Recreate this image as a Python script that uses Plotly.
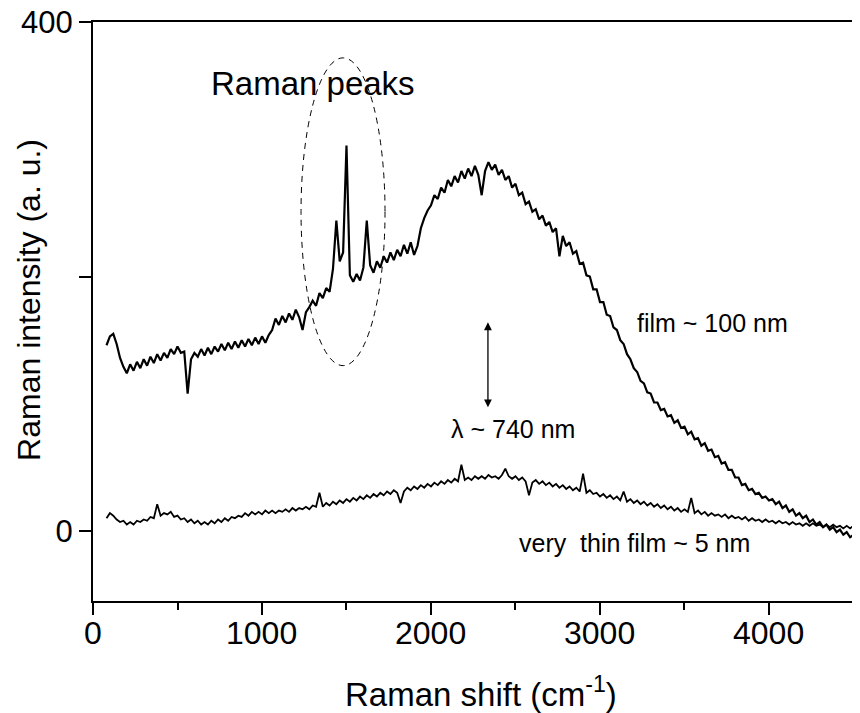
import plotly.graph_objects as go

# Raman shift sampling grid (cm^-1)
shift = list(range(80, 4540, 20))

# film ~ 100 nm
film_100nm = [
    146, 153, 155, 147, 136, 129, 124, 131, 126, 133,
    128, 135, 130, 137, 132, 139, 134, 140, 136, 143,
    139, 145, 140, 141, 108, 135, 140, 137, 143, 138,
    144, 139, 145, 141, 147, 142, 148, 143, 149, 144,
    150, 145, 151, 146, 152, 147, 153, 148, 154, 158,
    167, 162, 169, 164, 171, 166, 174, 168, 158, 172,
    176, 181, 177, 187, 183, 191, 188, 206, 244, 212,
    219, 303, 201, 196, 202, 197, 207, 244, 209, 203,
    212, 207, 216, 211, 219, 213, 221, 216, 225, 218,
    227, 217, 224, 238, 246, 252, 256, 264, 261, 270,
    266, 276, 271, 279, 274, 283, 277, 285, 279, 287,
    280, 264, 283, 290, 284, 288, 280, 284, 276, 279,
    270, 273, 264, 266, 257, 259, 251, 253, 245, 248,
    240, 243, 235, 238, 216, 232, 224, 227, 218, 220,
    210, 211, 201, 200, 190, 190, 180, 180, 170, 169,
    160, 158, 150, 147, 139, 135, 128, 125, 118, 116,
    109, 108, 101, 101, 95, 96, 90, 91, 85, 87,
    81, 82, 76, 78, 72, 73, 67, 69, 63, 64,
    58, 59, 53, 54, 48, 48, 42, 42, 36, 37,
    32, 33, 29, 30, 26, 27, 24, 25, 21, 23,
    18, 20, 15, 17, 12, 14, 10, 12, 7, 9,
    5, 7, 3, 5, 1, 3, -1, 1, -3, -1,
    -5, -3, -7,
]

# very thin film ~ 5 nm
film_5nm = [
    10, 14, 12, 9, 7, 8, 5, 7, 5, 8,
    7, 9, 8, 11, 10, 21, 12, 14, 13, 15,
    11, 12, 9, 10, 7, 9, 6, 8, 5, 7,
    5, 8, 6, 9, 7, 10, 8, 11, 10, 12,
    11, 14, 12, 15, 13, 15, 13, 16, 14, 16,
    14, 16, 15, 17, 15, 18, 16, 18, 17, 19,
    17, 20, 19, 30, 19, 22, 20, 23, 21, 24,
    22, 25, 23, 26, 24, 27, 25, 28, 26, 29,
    27, 30, 28, 31, 29, 32, 30, 22, 31, 34,
    32, 35, 33, 36, 34, 37, 35, 38, 36, 39,
    37, 40, 38, 41, 39, 52, 40, 42, 40, 43,
    41, 43, 41, 44, 42, 43, 41, 44, 49, 43,
    41, 43, 40, 42, 39, 28, 38, 40, 37, 39,
    36, 38, 35, 37, 34, 36, 33, 35, 32, 34,
    31, 45, 30, 32, 29, 30, 27, 29, 26, 28,
    25, 27, 24, 31, 23, 25, 22, 24, 21, 23,
    20, 22, 19, 21, 18, 20, 17, 19, 16, 18,
    15, 17, 15, 26, 14, 16, 13, 15, 12, 14,
    12, 13, 11, 13, 10, 12, 10, 11, 9, 11,
    8, 10, 8, 9, 7, 9, 7, 8, 6, 8,
    6, 7, 5, 7, 5, 6, 4, 6, 4, 6,
    4, 5, 3, 5, 3, 5, 3, 4, 2, 4,
    2, 4, 1,
]

x_tickvals = [0, 1000, 2000, 3000, 4000, 4500]
x_labelvals = [0, 1000, 2000, 3000, 4000]
x_labeltext = ["0", "1000", "2000", "3000", "4000"]
y_tickvals = [0, 400]
y_ticktext = ["0", "400"]
y_minorvals = [200]

FONT = "Arial, 'Liberation Sans', sans-serif"

fig = go.Figure()
fig.add_trace(go.Scatter(x=shift, y=film_100nm, mode="lines",
                         line=dict(color="black", width=2.2)))
fig.add_trace(go.Scatter(x=shift, y=film_5nm, mode="lines",
                         line=dict(color="black", width=1.8)))

# dashed ellipse around the Raman peaks
fig.add_shape(type="circle", xref="x", yref="y", x0=1231, x1=1728, y0=130, y1=372,
              line=dict(color="black", width=1, dash="6px,5px"))

# double-headed arrow
fig.add_annotation(x=2337, y=164, ax=2337, ay=96, xref="x", yref="y",
                   axref="x", ayref="y", text="", showarrow=True,
                   arrowhead=2, arrowside="end+start", arrowsize=1.2,
                   arrowwidth=1.3, arrowcolor="black")

ann_font = dict(family=FONT, size=25, color="black")
fig.add_annotation(x=1302, y=352, xref="x", yref="y", text="Raman peaks",
                   showarrow=False, xanchor="center", yanchor="middle",
                   font=dict(family=FONT, size=33, color="black"))
fig.add_annotation(x=3663, y=163.5, xref="x", yref="y", text="film ~ 100 nm",
                   showarrow=False, xanchor="center", yanchor="middle", font=ann_font)
fig.add_annotation(x=2485, y=80, xref="x", yref="y", text="λ ~ 740 nm",
                   showarrow=False, xanchor="center", yanchor="middle", font=ann_font)
fig.add_annotation(x=3207, y=-9.4, xref="x", yref="y",
                   text="very\u00a0 thin film ~ 5 nm",
                   showarrow=False, xanchor="center", yanchor="middle", font=ann_font)

# x tick labels, placed on the x scale
for v, t in zip(x_labelvals, x_labeltext):
    fig.add_annotation(x=v, y=-0.0553, xref="x", yref="paper", text=t,
                       showarrow=False, xanchor="center", yanchor="middle",
                       font=dict(family=FONT, size=32, color="black"))

# axis titles
fig.add_annotation(x=-0.0826, y=0.52, xref="paper", yref="paper",
                   text="Raman intensity (a. u.)", textangle=-90, showarrow=False,
                   xanchor="center", yanchor="middle",
                   font=dict(family=FONT, size=32, color="black"))
fig.add_annotation(x=0.5006, y=-0.157, xref="paper", yref="paper",
                   text="Raman shift (cm<sup>-1</sup>)", showarrow=False,
                   xanchor="center", yanchor="middle",
                   font=dict(family=FONT, size=33, color="black"))

fig.update_layout(
    width=860, height=713,
    margin=dict(l=85, r=0, t=14, b=120, autoexpand=False),
    paper_bgcolor="white", plot_bgcolor="white",
    showlegend=False,
    font=dict(family=FONT, color="black"),
)
fig.update_xaxes(range=[0, 4586], showgrid=False, zeroline=False, automargin=False,
                 showline=True, linecolor="black", linewidth=2, mirror=True,
                 ticks="outside", ticklen=12, tickwidth=2, tickcolor="black",
                 tickmode="array", tickvals=x_tickvals, showticklabels=False,
                 minor=dict(ticks="outside", ticklen=7, tickwidth=2,
                            tickcolor="black", dtick=500, tick0=0, showgrid=False))
fig.update_yaxes(range=[-55.1, 400.2], showgrid=False, zeroline=False, automargin=False,
                 showline=True, linecolor="black", linewidth=2, mirror=False,
                 ticks="outside", ticklen=12, tickwidth=2, tickcolor="black",
                 tickmode="array", tickvals=y_tickvals, ticktext=y_ticktext,
                 ticklabeloverflow="allow",
                 tickfont=dict(family=FONT, size=31, color="black"),
                 minor=dict(ticks="outside", ticklen=12, tickwidth=2,
                            tickcolor="black", tickvals=y_minorvals, showgrid=False))

fig.write_html("out.html")
